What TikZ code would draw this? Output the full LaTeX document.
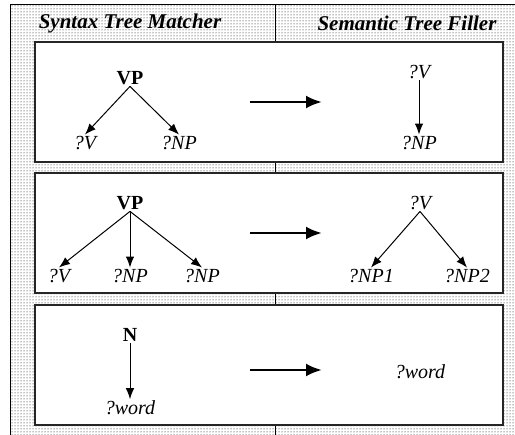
\documentclass[tikz,border=0pt]{standalone}
\usepackage{fontspec}
\setmainfont{Liberation Serif}
\usetikzlibrary{arrows.meta,patterns,positioning}

\tikzset{
  panel/.style={draw=black!85, fill=white, line width=1.6pt},
  colhead/.style={font=\fontsize{21}{24}\selectfont\bfseries\itshape, inner sep=0pt},
  cat/.style={font=\fontsize{20}{23}\selectfont\bfseries, inner sep=1.5pt},
  var/.style={font=\fontsize{20}{23}\selectfont\itshape, inner sep=1.5pt},
  branch/.style={-{Latex[length=11pt,width=8.5pt]}, line width=1pt},
  maps/.style={-{Latex[length=16pt,width=13pt]}, line width=2.8pt},
}

\begin{document}
\begin{tikzpicture}[x=1pt,y=-1pt]
    \useasboundingbox (0,0) rectangle (515,435);

    % dotted backdrop, column divider and outer frame
    \fill[pattern=dots, pattern color=black] (10,5) rectangle (515,435);
    \draw[line width=0.6pt] (275,5) -- (275,435);
    \draw[line width=1pt] (10,435) -- (10,5) -- (515,5);

    \node[colhead] (synhead) at (130,23) {Syntax Tree Matcher};
    \node[colhead] (semhead) at (407,23) {Semantic Tree Filler};

    % three rule panels
    \draw[panel] (35,42) rectangle (503,162);
    \draw[panel] (35,173) rectangle (503,293);
    \draw[panel] (35,305) rectangle (503,425);

    % rule 1: VP -> ?V ?NP
    \node[cat] (vp1) at (130,78) {VP};
    \node[var] (v1) at (85,143) {?V};
    \node[var] (np1) at (179,143) {?NP};
    \draw[branch] (vp1.south) -- (v1.north);
    \draw[branch] (vp1.south) -- (np1.north);

    \coordinate (from1) at (250,102);
    \coordinate (to1) at (322,102);
    \draw[maps] (from1) -- (to1);

    \node[var] (sv1) at (419,72) {?V};
    \node[var] (snp1) at (419,143) {?NP};
    \draw[branch] (sv1.south) -- (snp1.north);

    % rule 2: VP -> ?V ?NP ?NP
    \node[cat] (vp2) at (130,203) {VP};
    \node[var] (v2) at (59,276) {?V};
    \node[var] (npa2) at (130,276) {?NP};
    \node[var] (npb2) at (202,276) {?NP};
    \draw[branch] (vp2.south) -- (v2.north);
    \draw[branch] (vp2.south) -- (npa2.north);
    \draw[branch] (vp2.south) -- (npb2.north);

    \coordinate (from2) at (250,233);
    \coordinate (to2) at (322,233);
    \draw[maps] (from2) -- (to2);

    \node[var] (sv2) at (420,203) {?V};
    \node[var] (snpa2) at (371,276) {?NP1};
    \node[var] (snpb2) at (467,276) {?NP2};
    \draw[branch] (sv2.south) -- (snpa2.north);
    \draw[branch] (sv2.south) -- (snpb2.north);

    % rule 3: N -> ?word
    \node[cat] (n3) at (130,335) {N};
    \node[var] (w3) at (130,408) {?word};
    \draw[branch] (n3.south) -- (w3.north);

    \coordinate (from3) at (250,370);
    \coordinate (to3) at (322,370);
    \draw[maps] (from3) -- (to3);

    \node[var] (sw3) at (420,372) {?word};
\end{tikzpicture}
\end{document}
